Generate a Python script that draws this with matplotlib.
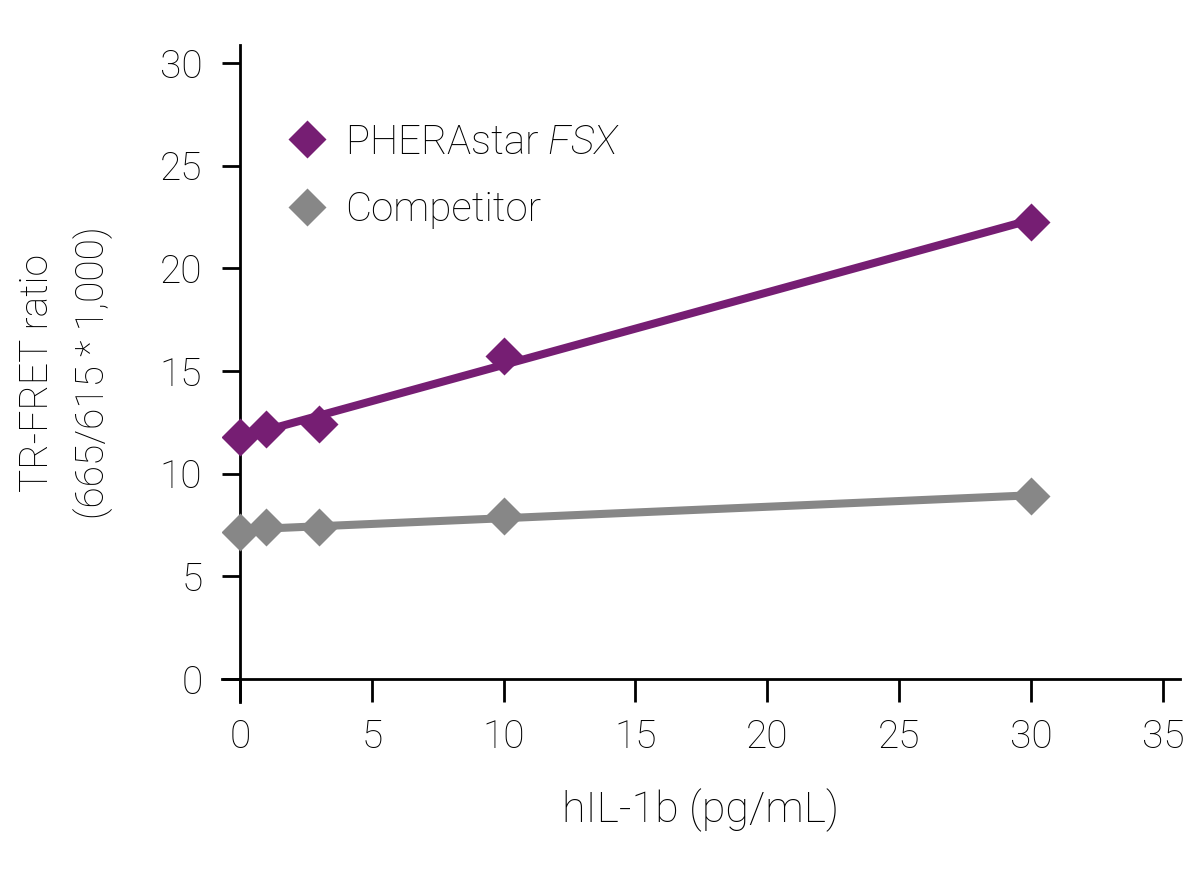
import numpy as np
import matplotlib
matplotlib.use("Agg")
import matplotlib.pyplot as plt
from matplotlib.lines import Line2D

conc = [0, 1, 3, 10, 30]
pherastar = [11.79, 12.18, 12.42, 15.73, 22.26]
competitor = [7.16, 7.40, 7.40, 7.95, 8.91]
x_ticks = [0, 5, 10, 15, 20, 25, 30, 35]
y_ticks = [0, 5, 10, 15, 20, 25, 30]
series_names = ["PHERAstar $\\mathit{FSX}$", "Competitor"]

purple = "#761E73"
gray = "#878787"

plt.rcParams['font.family'] = ['Roboto', 'DejaVu Sans']
plt.rcParams['font.weight'] = 'light'
plt.rcParams['mathtext.fontset'] = 'custom'
plt.rcParams['mathtext.it'] = 'Roboto:italic:light'
plt.rcParams['mathtext.rm'] = 'Roboto:light'

fig = plt.figure(figsize=(12, 8.89), dpi=100)
ax = fig.add_axes([222/1200, 1-702/889, (1180-222)/1200, (702-45)/889])

xfit = np.array([conc[0], conc[-1]])
for ys, col, name in [(pherastar, purple, series_names[0]), (competitor, gray, series_names[1])]:
    k, b = np.polyfit(conc, ys, 1)
    ax.plot(xfit, k*xfit + b, color=col, lw=5.8, solid_capstyle='butt', zorder=2)
    ax.plot(conc, ys, linestyle='none', marker='D', ms=19.4, color=col, mec='none', zorder=3)

ax.set_xlim(-0.68, 35.65)
ax.set_ylim(-1.12, 30.88)
ax.spines['left'].set_position(('data', 0))
ax.spines['bottom'].set_position(('data', 0))
for s in ['top', 'right']:
    ax.spines[s].set_visible(False)
for s in ['left', 'bottom']:
    ax.spines[s].set_linewidth(2)
ax.set_xticks(x_ticks)
ax.set_yticks(y_ticks)
ax.tick_params(axis='x', direction='out', length=16.6, width=2, pad=12, labelsize=28)
ax.tick_params(axis='y', direction='out', length=13, width=2, pad=14, labelsize=28)

handles = [Line2D([], [], linestyle='none', marker='D', ms=19, color=purple, mec='none'),
           Line2D([], [], linestyle='none', marker='D', ms=19, color=gray, mec='none')]
fig.legend(handles, series_names, loc='upper left', bbox_to_anchor=(287/1200, 1-123/889),
           bbox_transform=fig.transFigure, frameon=False, borderpad=0, borderaxespad=0,
           handlelength=1.0, handletextpad=0.45, labelspacing=0.72, fontsize=29)

fig.text(66/1200, 1-373/889, "TR-FRET ratio\n(665/615 * 1,000)", rotation=90,
         ha='center', va='center', multialignment='center', fontsize=28, linespacing=1.55)
fig.text(700/1200, 1-810/889, "hIL-1b (pg/mL)", ha='center', va='center', fontsize=31)

fig.savefig("out.png", dpi=100, facecolor='white')
